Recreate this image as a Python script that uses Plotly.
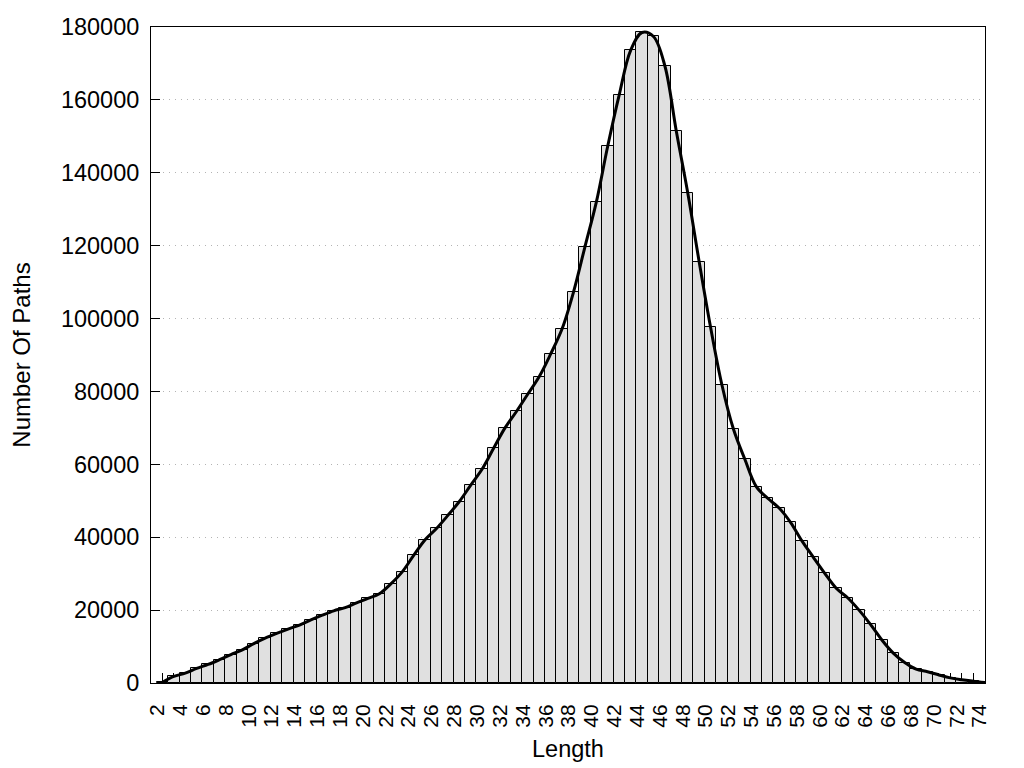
import plotly.graph_objects as go

lengths = list(range(2, 75))
counts = [
    200, 1800, 2700, 4000, 5100, 6400, 7800, 9100, 10800, 12300,
    13600, 14800, 15900, 17300, 18600, 19800, 20700, 22000, 23200, 24500,
    27200, 30500, 35000, 39300, 42400, 46000, 49800, 54300, 58700, 64400,
    70000, 74500, 79300, 84100, 90300, 97200, 107300, 119700, 132000, 147400,
    161400, 173600, 178500, 177400, 169300, 151400, 134500, 115600, 97600, 81700,
    69700, 61400, 53900, 50700, 48000, 44100, 39000, 34500, 30100, 26000,
    23400, 20000, 16100, 11800, 8200, 5600, 3800, 3100, 2200, 1400,
    900, 500, 150,
]
x_tick_vals = list(range(2, 75, 2))
y_tick_vals = list(range(0, 180001, 20000))

FONT = "Liberation Sans, Arial, sans-serif"

fig = go.Figure()
fig.add_trace(go.Bar(
    x=lengths, y=counts, width=1,
    marker=dict(color="#e0e0e0", line=dict(color="black", width=1)),
    showlegend=False,
))
fig.add_trace(go.Scatter(
    x=lengths, y=counts, mode="lines",
    line=dict(color="black", width=3, shape="spline", smoothing=1.0),
    showlegend=False,
))

# The page body has an 8px margin, so the figure sits at (8, 8) in the window.
fig.update_layout(
    width=1024, height=768,
    margin=dict(l=143, r=47, t=19, b=93, autoexpand=False),
    paper_bgcolor="white", plot_bgcolor="white",
    font=dict(family=FONT, color="black", size=23),
    bargap=0,
)
fig.update_xaxes(
    range=[1, 74.03],
    tickmode="array", tickvals=x_tick_vals, ticktext=[str(v) for v in x_tick_vals],
    tickangle=-90, tickfont=dict(size=21),
    ticks="inside", ticklen=10, tickwidth=1, tickcolor="black",
    minor=dict(dtick=1, tick0=1, ticks="inside", ticklen=10, tickwidth=1, tickcolor="black", showgrid=False),
    showline=True, linecolor="black", linewidth=1, mirror=True,
    showgrid=False, zeroline=False, automargin=False,
    layer="below traces",
    ticklabelshift=-5, ticklabelstandoff=12,
    title=dict(text="Length", font=dict(size=23.5), standoff=13),
)
fig.update_yaxes(
    range=[0, 180000],
    tickmode="array", tickvals=y_tick_vals, ticktext=[str(v) for v in y_tick_vals],
    tickfont=dict(size=23.5),
    ticks="inside", ticklen=9, tickwidth=1, tickcolor="black",
    showline=True, linecolor="black", linewidth=1, mirror=True,
    showgrid=True, gridcolor="#b4b4b4", griddash="1px,5px", gridwidth=1,
    zeroline=False, automargin=False,
    ticklabelstandoff=6,
    title=dict(text="Number Of Paths", font=dict(size=24), standoff=24),
)

fig.write_html("out.html")
